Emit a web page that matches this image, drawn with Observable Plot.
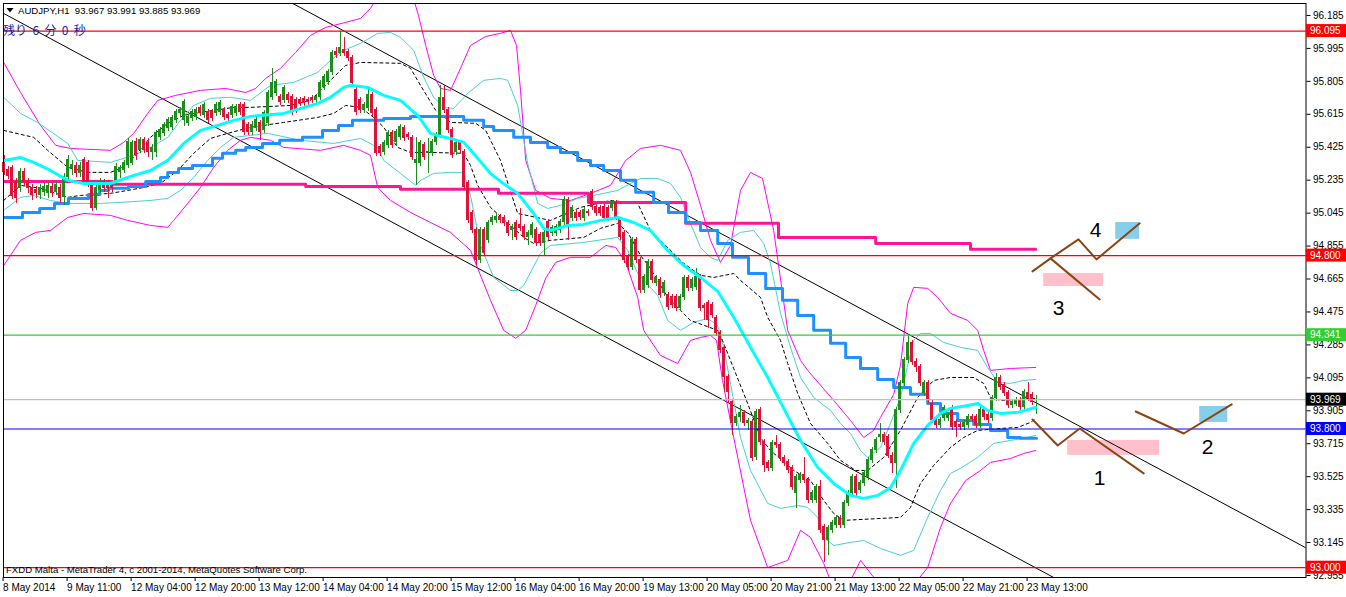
<!DOCTYPE html>
<html>
<head>
<meta charset="utf-8">
<script src="https://cdn.jsdelivr.net/npm/d3@7"></script>
<script src="https://cdn.jsdelivr.net/npm/@observablehq/plot@0.6"></script>
<style>
  html, body { margin: 0; padding: 0; background: #fff; overflow: hidden; }
  #chart svg { display: block; }
</style>
</head>
<body>
<div id="chart"></div>
<script>
// ---------- DATA (AUDJPY H1, bar index 0 = 8 May 2014 ...) ----------
const open = [95.332,95.291,95.303,95.222,95.188,95.280,95.222,95.188,95.176,95.147,95.165,95.159,95.193,95.165,95.188,95.136,95.251,95.303,95.314,95.274,95.349,95.332,95.205,95.072,95.176,95.222,95.216,95.205,95.222,95.280,95.291,95.320,95.332,95.453,95.407,95.465,95.447,95.395,95.395,95.482,95.505,95.534,95.540,95.580,95.620,95.580,95.563,95.592,95.597,95.649,95.609,95.626,95.626,95.620,95.626,95.638,95.609,95.609,95.620,95.666,95.666,95.551,95.511,95.534,95.563,95.522,95.563,95.713,95.736,95.713,95.695,95.724,95.713,95.695,95.695,95.701,95.695,95.707,95.695,95.713,95.770,95.799,95.857,95.972,95.966,95.984,95.972,95.937,95.753,95.695,95.638,95.649,95.724,95.638,95.424,95.395,95.436,95.505,95.453,95.482,95.534,95.493,95.476,95.332,95.332,95.436,95.390,95.390,95.453,95.493,95.707,95.638,95.522,95.395,95.447,95.395,95.216,95.043,94.945,94.772,94.945,94.888,94.991,95.003,95.020,95.015,94.986,94.945,94.986,94.974,94.963,94.905,94.917,94.945,94.917,94.870,94.991,94.928,94.928,94.945,94.991,95.118,95.015,95.043,95.043,95.015,95.049,95.165,95.078,95.072,95.078,95.072,95.072,95.101,95.003,94.928,94.790,94.732,94.888,94.772,94.599,94.628,94.761,94.640,94.657,94.582,94.570,94.559,94.559,94.495,94.559,94.669,94.611,94.617,94.674,94.507,94.524,94.513,94.438,94.351,94.265,94.097,93.953,93.832,93.867,93.890,93.832,93.838,93.636,93.907,93.723,93.601,93.573,93.717,93.705,93.630,93.607,93.573,93.428,93.503,93.532,93.503,93.388,93.388,93.463,93.232,93.157,93.215,93.244,93.284,93.244,93.371,93.428,93.521,93.446,93.486,93.521,93.619,93.676,93.751,93.763,93.751,93.647,93.601,93.907,94.063,94.196,94.294,94.184,94.155,94.005,94.063,93.947,93.849,93.821,93.861,93.861,93.919,93.838,93.821,93.809,93.821,93.867,93.867,93.821,93.907,93.878,93.861,93.976,94.092,94.051,94.005,93.936,93.947,93.965,93.924,94.005,93.994,93.967];
const high = [95.378,95.314,95.320,95.245,95.303,95.303,95.245,95.211,95.199,95.211,95.216,95.222,95.216,95.228,95.211,95.274,95.378,95.349,95.338,95.338,95.366,95.349,95.222,95.205,95.245,95.240,95.234,95.222,95.332,95.320,95.349,95.476,95.465,95.476,95.482,95.482,95.476,95.442,95.522,95.540,95.568,95.597,95.609,95.643,95.655,95.701,95.615,95.643,95.655,95.666,95.684,95.643,95.643,95.684,95.695,95.655,95.626,95.672,95.672,95.684,95.684,95.568,95.574,95.597,95.580,95.638,95.753,95.880,95.816,95.730,95.782,95.741,95.730,95.713,95.713,95.718,95.713,95.724,95.730,95.811,95.845,95.874,95.984,96.001,96.093,96.059,95.989,95.955,95.770,95.713,95.684,95.765,95.741,95.655,95.442,95.465,95.522,95.522,95.528,95.557,95.551,95.511,95.493,95.482,95.465,95.453,95.476,95.470,95.511,95.782,95.782,95.655,95.540,95.465,95.465,95.413,95.234,95.061,94.963,94.963,94.963,95.003,95.032,95.043,95.038,95.032,95.003,94.980,95.003,95.072,94.980,94.945,94.991,94.963,94.934,94.945,95.009,94.974,94.980,95.009,95.142,95.136,95.090,95.061,95.061,95.078,95.067,95.182,95.095,95.090,95.095,95.090,95.118,95.118,95.020,94.945,94.807,94.905,94.905,94.790,94.692,94.778,94.778,94.686,94.674,94.657,94.588,94.576,94.576,94.576,94.686,94.686,94.674,94.726,94.692,94.524,94.542,94.530,94.455,94.369,94.282,94.115,93.970,93.884,93.936,93.907,93.861,93.855,93.913,93.925,93.740,93.619,93.734,93.763,93.723,93.647,93.624,93.590,93.538,93.549,93.636,93.521,93.446,93.480,93.503,93.250,93.244,93.273,93.301,93.301,93.388,93.446,93.538,93.538,93.503,93.561,93.636,93.694,93.751,93.832,93.780,93.769,93.665,93.925,94.080,94.213,94.340,94.311,94.207,94.173,94.080,94.080,93.965,93.867,93.867,93.936,93.896,93.936,93.855,93.838,93.849,93.884,93.884,93.884,93.925,93.925,93.896,93.994,94.121,94.109,94.069,94.022,93.970,93.982,93.982,94.028,94.069,94.011,93.991];
const low = [95.263,95.240,95.124,95.101,95.165,95.199,95.159,95.118,95.130,95.124,95.142,95.130,95.136,95.147,95.101,95.089,95.234,95.263,95.251,95.251,95.205,95.193,95.055,95.061,95.159,95.165,95.130,95.165,95.205,95.245,95.274,95.303,95.320,95.349,95.390,95.390,95.366,95.349,95.366,95.465,95.488,95.517,95.522,95.563,95.603,95.545,95.545,95.574,95.580,95.603,95.592,95.563,95.574,95.603,95.609,95.580,95.574,95.592,95.603,95.609,95.493,95.493,95.493,95.517,95.465,95.505,95.545,95.695,95.718,95.666,95.678,95.678,95.609,95.620,95.661,95.661,95.666,95.678,95.678,95.695,95.753,95.782,95.839,95.938,95.949,95.949,95.920,95.776,95.609,95.620,95.620,95.632,95.603,95.372,95.372,95.378,95.418,95.418,95.436,95.465,95.459,95.465,95.349,95.205,95.314,95.349,95.274,95.372,95.436,95.476,95.620,95.505,95.360,95.378,95.390,95.176,94.986,94.928,94.743,94.755,94.795,94.870,94.974,94.986,94.986,94.968,94.911,94.888,94.888,94.940,94.888,94.859,94.899,94.853,94.853,94.801,94.888,94.911,94.911,94.928,94.974,94.888,94.997,94.997,95.003,94.997,95.026,95.061,95.026,95.026,94.997,94.997,95.055,95.003,94.888,94.755,94.715,94.715,94.755,94.582,94.582,94.611,94.640,94.622,94.553,94.565,94.484,94.495,94.478,94.478,94.542,94.594,94.594,94.599,94.478,94.426,94.380,94.438,94.334,94.236,94.011,93.947,93.763,93.815,93.838,93.815,93.792,93.613,93.619,93.705,93.549,93.555,93.555,93.688,93.613,93.584,93.544,93.446,93.342,93.486,93.486,93.371,93.371,93.371,93.198,93.030,93.071,93.198,93.227,93.227,93.227,93.353,93.411,93.411,93.428,93.469,93.503,93.601,93.659,93.723,93.705,93.630,93.544,93.457,93.890,94.046,94.178,94.167,94.126,94.046,93.988,93.947,93.832,93.803,93.803,93.844,93.844,93.792,93.751,93.792,93.792,93.803,93.838,93.803,93.803,93.849,93.832,93.844,93.959,94.022,93.988,93.919,93.919,93.930,93.907,93.907,93.959,93.936,93.885];
const close = [95.280,95.257,95.142,95.130,95.280,95.222,95.188,95.147,95.159,95.188,95.193,95.199,95.159,95.205,95.130,95.251,95.349,95.320,95.274,95.314,95.222,95.222,95.072,95.188,95.222,95.188,95.188,95.188,95.309,95.303,95.332,95.453,95.447,95.378,95.465,95.407,95.395,95.418,95.505,95.522,95.551,95.580,95.592,95.626,95.638,95.684,95.597,95.626,95.638,95.620,95.666,95.580,95.592,95.666,95.678,95.597,95.592,95.655,95.655,95.626,95.511,95.511,95.551,95.580,95.511,95.620,95.736,95.793,95.799,95.684,95.765,95.695,95.638,95.638,95.678,95.678,95.684,95.695,95.713,95.793,95.828,95.857,95.966,95.955,95.995,95.966,95.937,95.793,95.626,95.638,95.666,95.724,95.620,95.389,95.389,95.447,95.505,95.436,95.511,95.540,95.476,95.482,95.366,95.349,95.447,95.366,95.395,95.453,95.493,95.707,95.638,95.522,95.378,95.447,95.407,95.193,95.003,94.945,94.772,94.945,94.813,94.986,95.015,95.020,95.003,94.986,94.928,94.963,94.905,94.957,94.905,94.928,94.974,94.870,94.870,94.928,94.905,94.957,94.963,94.991,95.118,94.963,95.072,95.015,95.020,95.061,95.043,95.078,95.043,95.043,95.015,95.015,95.101,95.020,94.905,94.772,94.732,94.888,94.772,94.599,94.674,94.761,94.657,94.669,94.570,94.640,94.501,94.513,94.495,94.559,94.669,94.611,94.657,94.674,94.495,94.495,94.426,94.455,94.351,94.253,94.097,94.011,93.832,93.867,93.890,93.832,93.844,93.630,93.896,93.723,93.590,93.573,93.717,93.705,93.630,93.601,93.561,93.463,93.521,93.532,93.503,93.388,93.428,93.463,93.215,93.157,93.227,93.255,93.284,93.244,93.371,93.428,93.521,93.428,93.486,93.544,93.619,93.676,93.734,93.763,93.723,93.647,93.601,93.907,94.063,94.196,94.294,94.184,94.155,94.063,94.063,93.965,93.849,93.821,93.849,93.919,93.878,93.809,93.809,93.809,93.832,93.867,93.855,93.821,93.907,93.867,93.849,93.976,94.092,94.040,94.005,93.936,93.953,93.965,93.924,94.011,93.976,93.953,93.969];

const xTickIndex = [0,16,32,48,64,80,96,112,128,144,160,176,192,208,224,240,256];
const xTickLabels = ["8 May 2014","9 May 11:00","12 May 04:00","12 May 20:00","13 May 12:00","14 May 04:00","14 May 20:00","15 May 12:00","16 May 04:00","16 May 20:00","19 May 13:00","20 May 05:00","20 May 21:00","21 May 13:00","22 May 05:00","22 May 21:00","23 May 13:00"];
const yTicks = [96.185,95.995,95.805,95.615,95.425,95.235,95.045,94.855,94.665,94.475,94.285,94.095,93.905,93.715,93.525,93.335,93.145,92.955];

// horizontal levels
const levelPrices = [96.095, 94.800, 94.341, 93.969, 93.800, 93.000];
const levelLabels = ["96.095","94.800","94.341","93.969","93.800","93.000"];

// indicator lines [barIndex, price]
const magUpper = [[-0.1,95.914],[4.1,95.741],[9.1,95.551],[12.9,95.436],[16.6,95.418],[26.6,95.407],[29.9,95.453],[32.4,95.505],[35.9,95.620],[38.4,95.695],[42.9,95.724],[49.1,95.753],[55.4,95.764],[60.4,95.741],[62.9,95.764],[65.4,95.822],[69.1,95.880],[72.9,95.972],[76.6,96.070],[80.4,96.116],[85.4,96.145],[89.1,96.168],[91.6,96.226],[93.6,96.301],[102.1,96.301],[103.6,96.185],[105.4,96.012],[107.4,95.839],[109.1,95.764],[111.6,95.753],[114.1,95.880],[116.6,96.012],[120.4,96.064],[124.1,96.082],[126.6,96.099],[128.1,96.012],[129.1,95.753],[130.4,95.349],[132.9,95.176],[136.6,95.130],[141.6,95.118],[146.6,95.159],[151.6,95.205],[155.4,95.349],[159.1,95.418],[164.1,95.436],[169.1,95.407],[171.6,95.280],[174.1,95.090],[176.6,94.888],[179.1,94.761],[181.6,94.859],[184.1,95.176],[186.6,95.280],[189.6,95.245],[192.4,94.945],[195.9,94.369],[199.1,94.196],[200.9,94.138],[207.4,93.965],[211.6,93.849],[214.9,93.751],[217.4,93.792],[219.1,93.867],[222.4,94.000],[224.1,94.167],[225.9,94.524],[227.4,94.617],[230.9,94.611],[233.4,94.559],[236.6,94.467],[240.9,94.426],[243.4,94.369],[244.9,94.253],[246.6,94.138],[251.6,94.149],[257.9,94.155]];
const magLower = [[-0.1,94.743],[4.1,94.888],[7.9,94.934],[11.6,94.945],[15.9,95.020],[19.9,95.043],[26.6,95.032],[30.9,95.003],[36.6,94.974],[40.9,94.963],[42.4,95.003],[45.9,95.101],[49.1,95.193],[52.4,95.309],[55.9,95.407],[59.1,95.465],[61.6,95.482],[66.6,95.465],[69.9,95.424],[79.1,95.407],[84.9,95.436],[89.1,95.407],[91.6,95.378],[93.4,95.193],[96.6,95.118],[101.6,95.049],[106.6,94.991],[111.6,94.934],[116.6,94.830],[121.6,94.542],[124.9,94.369],[127.9,94.323],[130.4,94.369],[132.9,94.513],[135.4,94.669],[137.9,94.761],[141.6,94.790],[146.6,94.790],[150.4,94.859],[152.9,94.847],[155.4,94.761],[158.4,94.559],[159.9,94.369],[164.1,94.224],[168.4,94.178],[171.6,94.311],[174.1,94.328],[176.6,94.340],[178.1,94.311],[179.6,94.080],[182.4,93.751],[186.6,93.273],[190.9,93.001],[195.9,93.042],[199.1,93.215],[201.6,93.175],[204.9,93.025],[206.6,92.926],[211.6,92.926],[214.1,93.042],[217.9,92.930],[227.9,92.915],[230.9,93.001],[234.1,93.232],[236.6,93.371],[240.4,93.503],[244.1,93.561],[246.6,93.607],[251.6,93.630],[254.9,93.659],[257.9,93.676]];
const turqUpper = [[-0.1,95.713],[4.1,95.620],[8.4,95.568],[15.9,95.447],[18.4,95.349],[26.6,95.338],[32.4,95.378],[36.6,95.424],[40.9,95.482],[44.1,95.580],[47.4,95.666],[51.6,95.707],[56.6,95.713],[61.6,95.695],[66.6,95.782],[72.4,95.799],[78.4,95.857],[81.6,95.926],[84.9,95.984],[89.1,96.024],[93.4,96.082],[96.6,96.087],[99.1,96.059],[102.4,95.984],[104.9,95.828],[107.4,95.713],[109.9,95.655],[112.4,95.649],[115.9,95.736],[119.9,95.811],[124.1,95.822],[125.9,95.811],[128.4,95.666],[130.9,95.332],[133.4,95.101],[135.9,95.072],[139.1,95.090],[143.4,95.130],[147.4,95.147],[153.4,95.176],[156.6,95.216],[159.1,95.245],[163.4,95.245],[166.6,95.216],[169.1,95.136],[171.6,94.986],[174.1,94.847],[176.6,94.790],[178.4,94.772],[180.9,94.888],[184.1,94.934],[187.4,94.945],[189.9,94.870],[191.6,94.755],[194.1,94.467],[196.6,94.271],[199.1,94.097],[202.4,93.982],[206.6,93.907],[209.1,93.832],[211.6,93.774],[214.1,93.676],[215.9,93.636],[219.1,93.694],[221.6,93.832],[224.1,93.982],[225.9,94.167],[227.4,94.311],[229.1,94.351],[231.6,94.351],[234.9,94.299],[239.1,94.271],[243.4,94.253],[245.9,94.155],[248.4,94.069],[251.6,94.063],[254.9,94.080],[257.9,94.086]];
const turqLower = [[-0.1,95.061],[4.1,95.136],[7.4,95.147],[11.6,95.118],[15.9,95.101],[24.1,95.101],[29.1,95.107],[36.6,95.118],[40.9,95.130],[44.1,95.176],[47.4,95.251],[50.9,95.349],[54.1,95.424],[57.4,95.482],[61.6,95.493],[65.9,95.505],[74.1,95.465],[82.4,95.447],[89.1,95.476],[93.4,95.424],[94.9,95.349],[99.1,95.274],[102.9,95.205],[104.1,95.234],[107.4,95.274],[111.6,95.280],[114.9,95.280],[116.6,95.147],[119.1,94.859],[122.4,94.674],[126.6,94.599],[128.4,94.599],[129.9,94.628],[134.1,94.813],[136.6,94.859],[144.9,94.876],[153.4,94.905],[155.9,94.830],[158.4,94.697],[163.4,94.570],[165.9,94.426],[169.1,94.369],[172.4,94.415],[175.9,94.438],[178.4,94.397],[179.9,94.271],[182.4,93.965],[184.1,93.751],[186.6,93.561],[190.9,93.371],[194.1,93.342],[198.4,93.359],[200.9,93.348],[203.4,93.290],[204.9,93.175],[207.4,93.128],[211.6,93.146],[214.9,93.157],[219.1,93.111],[224.1,93.071],[227.4,93.100],[230.9,93.290],[234.1,93.446],[236.6,93.544],[239.1,93.573],[243.4,93.636],[247.4,93.717],[251.6,93.734],[254.9,93.746],[257.9,93.763]];
const dashUpper = [[-0.1,95.522],[7.4,95.482],[10.9,95.407],[15.9,95.309],[20.9,95.280],[26.6,95.280],[29.1,95.303],[32.4,95.366],[36.6,95.482],[40.9,95.563],[44.9,95.609],[49.1,95.626],[57.4,95.655],[61.6,95.655],[71.6,95.666],[76.6,95.695],[81.6,95.811],[85.4,95.897],[89.1,95.914],[99.1,95.909],[101.6,95.880],[104.1,95.782],[107.9,95.638],[111.6,95.568],[117.9,95.563],[120.4,95.522],[124.1,95.349],[128.4,95.043],[136.6,95.003],[144.1,95.078],[151.6,95.118],[158.4,95.101],[161.6,94.945],[169.9,94.755],[174.1,94.686],[177.4,94.674],[182.4,94.697],[184.1,94.657],[189.1,94.559],[190.9,94.444],[194.1,94.311],[195.9,94.178],[198.4,94.005],[201.6,93.832],[205.9,93.717],[209.1,93.619],[212.9,93.561],[215.9,93.561],[219.9,93.636],[224.1,93.792],[228.4,93.982],[232.4,94.080],[236.6,94.097],[242.4,94.097],[244.9,94.063],[246.6,93.982],[249.1,93.965],[257.9,93.976]];
const dashLower = [[-0.1,95.118],[4.1,95.205],[9.1,95.188],[15.9,95.136],[19.1,95.147],[26.6,95.159],[30.9,95.176],[34.9,95.193],[39.1,95.216],[43.4,95.291],[47.4,95.390],[51.6,95.476],[55.9,95.505],[61.6,95.540],[69.9,95.568],[78.4,95.597],[82.4,95.620],[85.4,95.666],[89.1,95.655],[92.4,95.597],[94.9,95.540],[98.4,95.424],[101.6,95.395],[106.6,95.395],[114.9,95.390],[116.6,95.320],[118.4,95.205],[121.6,95.078],[129.9,94.905],[132.4,94.870],[136.6,94.888],[144.9,94.905],[149.1,94.957],[153.4,94.986],[155.9,94.934],[159.1,94.801],[161.6,94.726],[165.9,94.559],[171.6,94.426],[178.4,94.369],[179.6,94.311],[182.4,94.149],[185.9,93.947],[189.1,93.751],[191.6,93.676],[197.4,93.561],[201.6,93.503],[204.9,93.388],[207.4,93.313],[209.9,93.273],[224.1,93.290],[226.6,93.348],[229.1,93.486],[232.4,93.590],[236.6,93.694],[239.9,93.751],[243.4,93.792],[249.1,93.803],[253.4,93.809],[256.6,93.838],[257.9,93.861]];
const maLine = [[-0.1,95.349],[4.1,95.366],[7.4,95.338],[11.6,95.291],[15.9,95.234],[19.9,95.216],[26.6,95.216],[32.4,95.263],[36.6,95.291],[40.9,95.349],[44.9,95.447],[49.1,95.522],[53.4,95.551],[57.4,95.580],[61.6,95.603],[69.9,95.620],[78.4,95.678],[81.6,95.713],[84.9,95.770],[86.6,95.782],[90.9,95.770],[94.9,95.724],[99.1,95.695],[103.4,95.609],[106.6,95.505],[109.1,95.488],[111.6,95.476],[114.9,95.453],[118.4,95.361],[121.6,95.274],[124.1,95.228],[128.4,95.159],[132.4,95.043],[134.9,94.957],[136.6,94.945],[140.9,94.974],[144.9,94.980],[149.1,95.003],[153.4,95.020],[157.4,94.991],[161.6,94.945],[165.9,94.830],[169.9,94.743],[174.1,94.674],[178.4,94.594],[182.4,94.444],[186.6,94.271],[190.9,94.097],[194.9,93.919],[199.1,93.734],[203.4,93.578],[207.4,93.486],[211.6,93.417],[214.9,93.400],[218.4,93.417],[221.6,93.463],[224.1,93.561],[227.4,93.717],[230.9,93.821],[234.1,93.890],[236.6,93.919],[240.9,93.936],[243.4,93.947],[245.9,93.907],[249.1,93.890],[253.4,93.896],[257.9,93.925]];
const blueStep = [[-0.1,95.020],[4.6,95.049],[8.9,95.072],[12.6,95.101],[16.1,95.130],[21.1,95.153],[23.9,95.176],[26.1,95.188],[31.1,95.199],[35.4,95.228],[39.1,95.251],[40.9,95.280],[43.6,95.303],[47.1,95.320],[52.1,95.361],[54.6,95.390],[57.9,95.407],[60.4,95.424],[64.6,95.447],[68.9,95.465],[74.6,95.482],[79.6,95.522],[83.6,95.551],[87.1,95.580],[94.9,95.591],[101.6,95.603],[114.9,95.580],[119.9,95.545],[122.4,95.522],[127.4,95.482],[131.6,95.453],[135.9,95.424],[139.1,95.395],[143.4,95.349],[146.6,95.320],[149.9,95.291],[154.1,95.234],[157.9,95.165],[162.4,95.107],[166.1,95.049],[170.4,94.991],[174.1,94.945],[178.4,94.870],[182.1,94.790],[186.1,94.697],[190.4,94.611],[194.6,94.542],[198.4,94.455],[202.4,94.369],[206.6,94.294],[210.4,94.213],[214.1,94.149],[218.4,94.086],[222.4,94.040],[226.6,94.000],[230.9,93.947],[234.1,93.890],[238.4,93.849],[242.4,93.826],[246.6,93.792],[250.9,93.751],[254.1,93.746],[258.1,93.746]];
const pinkStep = [[-0.1,95.228],[27.1,95.211],[75.4,95.199],[99.1,95.182],[123.6,95.159],[146.1,95.107],[170.4,94.986],[193.6,94.905],[217.9,94.870],[241.6,94.836],[257.9,94.836]];

// trend channel lines
const channelUpper = [[72.1,96.255],[325.5,93.114]];
const channelLower = [[-0.15,96.197],[262.35,92.944]];

// drawn objects (scenarios 1-4)
const pathA = [[257.1,94.709],[261.6,94.784],[268.6,94.894],[273.1,94.778],[283.9,94.986]];
const pathB = [[261.6,94.784],[273.9,94.547]];
const pathC = [[257.1,93.855],[263.4,93.705],[268.9,93.803],[284.9,93.544]];
const pathD = [[282.9,93.901],[294.9,93.774],[306.9,93.942]];
const pinkBoxes = [[259.9,274.9,94.697,94.622],[265.9,288.9,93.734,93.648]];
const blueBoxes = [[277.9,283.9,94.991,94.894],[298.9,305.9,93.930,93.838]];
const scenarioLabels = [["1",273.9,93.515],["2",300.9,93.694],["3",263.6,94.496],["4",272.9,94.945]];

// ---------- STYLE ----------
const UP = "#1f8c1f", DOWN = "#dc143c";
const levelColors = ["red","red","limegreen","silver","blue","red"];
const boxColors = ["red","red","limegreen","black","blue","red"];
const BROWN = "#8b4513";
const FONT = "'Liberation Sans', Arial, sans-serif";

const candles = open.map((o, i) => ({i, o, h: high[i], l: low[i], c: close[i]}));
const upCandles = candles.filter(d => d.c >= d.o);
const downCandles = candles.filter(d => d.c < d.o);
const tup = {x: d => d[0], y: d => d[1], clip: true};

const candleMarks = (data, color) => [
  Plot.ruleX(data, {x: "i", y1: "l", y2: "h", stroke: color, strokeWidth: 1, shapeRendering: "crispEdges"}),
  Plot.rect(data, {x1: d => d.i - 0.4, x2: d => d.i + 0.4, y1: "o", y2: "c", fill: color, insetTop: -0.5, insetBottom: -0.5, shapeRendering: "crispEdges"})
];

const plot = Plot.plot({
  width: 1346,
  height: 597,
  marginLeft: 3,
  marginRight: 40.5,
  marginTop: 3,
  marginBottom: 20,
  style: {background: "#fff", color: "#000", fontFamily: FONT, fontSize: "10px", overflow: "visible"},
  x: {type: "linear", domain: [-0.15, 325.475], axis: null},
  y: {type: "linear", domain: [92.9435, 96.254], axis: null},
  marks: [
    Plot.rect(pinkBoxes, {x1: d => d[0], x2: d => d[1], y1: d => d[2], y2: d => d[3], fill: "#ffc0cb"}),
    Plot.rect(blueBoxes, {x1: d => d[0], x2: d => d[1], y1: d => d[2], y2: d => d[3], fill: "#87ceeb"}),
    Plot.line(channelUpper, {...tup, stroke: "#000", strokeWidth: 1}),
    Plot.line(channelLower, {...tup, stroke: "#000", strokeWidth: 1}),
    Plot.line(magUpper, {...tup, stroke: "#ff00ff", strokeWidth: 1}),
    Plot.line(magLower, {...tup, stroke: "#ff00ff", strokeWidth: 1}),
    Plot.line(turqUpper, {...tup, stroke: "#48d1cc", strokeWidth: 1}),
    Plot.line(turqLower, {...tup, stroke: "#48d1cc", strokeWidth: 1}),
    Plot.line(dashUpper, {...tup, stroke: "#000", strokeWidth: 1, strokeDasharray: "3,3"}),
    Plot.line(dashLower, {...tup, stroke: "#000", strokeWidth: 1, strokeDasharray: "3,3"}),
    Plot.line(pinkStep, {...tup, stroke: "#ff1493", strokeWidth: 3, curve: "step-after"}),
    Plot.line(blueStep, {...tup, stroke: "#1e90ff", strokeWidth: 3, curve: "step-after"}),
    ...candleMarks(upCandles, UP),
    ...candleMarks(downCandles, DOWN),
    Plot.line(maLine, {...tup, stroke: "#00ffff", strokeWidth: 3}),
    ...levelPrices.map((p, k) => Plot.ruleY([p], {y: d => d, stroke: levelColors[k], strokeWidth: 1.2})),
    Plot.line(pathA, {...tup, stroke: BROWN, strokeWidth: 2}),
    Plot.line(pathB, {...tup, stroke: BROWN, strokeWidth: 2}),
    Plot.line(pathC, {...tup, stroke: BROWN, strokeWidth: 2}),
    Plot.line(pathD, {...tup, stroke: BROWN, strokeWidth: 2}),
    Plot.text(scenarioLabels, {x: d => d[1], y: d => d[2], text: d => d[0], fontSize: 21, fill: "#000", fontFamily: FONT}),
    Plot.frame({stroke: "#000"}),
    Plot.axisY({anchor: "right", ticks: yTicks, tickFormat: d3.format(".3f"), tickSize: 4, tickPadding: 3, label: null, fontSize: 10}),
    Plot.axisX({anchor: "bottom", ticks: xTickIndex, tickFormat: d => xTickLabels[xTickIndex.indexOf(d)], tickSize: 4, tickPadding: 2, textAnchor: "start", dx: -1, label: null, fontSize: 10})
  ]
});

document.getElementById("chart").appendChild(plot);

// overlays: header, timer, footer, price boxes
const svg = d3.select(plot);
const ys = plot.scale("y");
const g = svg.append("g").attr("font-family", FONT).attr("text-anchor", "start");
g.append("path").attr("d", "M6.5,8 L13.5,8 L10,12.5 Z").attr("fill", "#000");
g.append("text").attr("x", 18).attr("y", 14).attr("font-size", 9.6).attr("fill", "#000").attr("text-anchor", "start")
  .style("white-space", "pre").text("AUDJPY,H1  93.967 93.991 93.885 93.969");
g.append("text").attr("x", 3).attr("y", 35).attr("font-size", 12).attr("fill", "#1c1ca8").attr("text-anchor", "start")
  .attr("font-family", "'Noto Sans CJK JP', sans-serif").style("white-space", "pre").text("残り  6  分  0  秒");
g.append("text").attr("x", 6).attr("y", 573).attr("font-size", 9.6).attr("fill", "#000").attr("text-anchor", "start")
  .text("FXDD Malta - MetaTrader 4, c 2001-2014, MetaQuotes Software Corp.");
levelPrices.forEach((p, k) => {
  const yy = ys.apply(p);
  g.append("rect").attr("x", 1306).attr("y", yy - 6.5).attr("width", 40).attr("height", 13).attr("fill", boxColors[k]);
  g.append("text").attr("x", 1310).attr("y", yy + 3.6).attr("font-size", 10).attr("fill", "#fff").attr("text-anchor", "start").text(levelLabels[k]);
});
</script>
</body>
</html>
